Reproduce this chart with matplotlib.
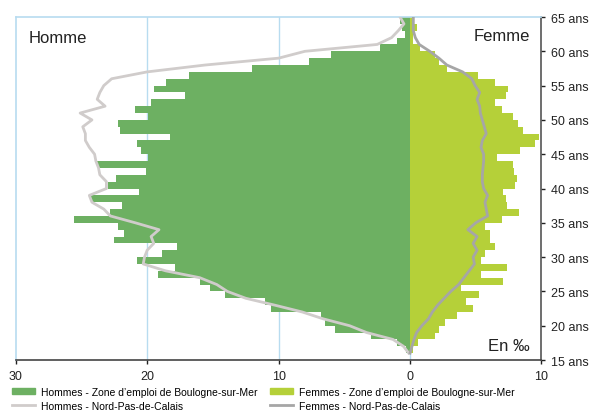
import numpy as np
import matplotlib.pyplot as plt
from matplotlib.patches import Patch
from matplotlib.lines import Line2D
from matplotlib.ticker import FixedLocator, FixedFormatter

plt.rcParams['font.family'] = ['Liberation Sans', 'DejaVu Sans']

# ages of the bars (each bar covers [age, age+1])
ages = list(range(16, 65))
hommes_zone = [0.3, 1.0, 3.0, 5.7, 6.5, 6.8, 10.6, 11.0, 14.1, 15.2,
               16.0, 19.2, 17.9, 20.8, 18.9, 17.7, 22.5, 21.8, 22.2, 25.6,
               22.8, 21.9, 24.3, 20.6, 23.0, 22.4, 20.1, 23.8, 19.9, 20.5,
               20.8, 18.3, 22.1, 22.2, 19.9, 20.9, 19.7, 17.1, 19.5, 18.6,
               16.8, 12.05, 7.7, 6.0, 2.3, 1.0, 0.4, 0.6, 0.75]
femmes_zone = [0.25, 0.63, 1.9, 2.2, 2.66, 3.55, 4.8, 4.26, 5.25, 3.9,
               7.05, 5.4, 7.4, 5.4, 5.7, 6.5, 6.1, 6.1, 5.7, 7.0,
               8.27, 7.4, 7.3, 7.05, 8.0, 8.1, 7.9, 7.8, 6.6, 8.4,
               9.5, 9.8, 8.57, 8.25, 7.8, 6.98, 6.47, 7.3, 7.43, 6.47,
               5.15, 2.8, 2.2, 1.9, 0.76, 0.25, 0.25, 0.5, 0.2]

# regional reference lines
ages_npdc = list(range(16, 66))
hommes_npdc = [0.1, 0.5, 1.3, 3.3, 4.6, 6.6, 8.2, 10.3, 12.5, 13.9,
               14.7, 16.0, 18.6, 20.3, 20.2, 20.0, 19.5, 19.7, 19.1, 20.9,
               22.8, 23.3, 24.2, 24.4, 23.1, 23.1, 23.6, 23.7, 23.9, 24.0,
               24.4, 24.7, 24.7, 24.9, 24.2, 25.1, 23.2, 23.8, 23.6, 23.3,
               22.7, 20.0, 15.6, 10.0, 8.0, 2.5, 1.4, 0.9, 0.46, 0.76]
femmes_npdc = [0.0, 0.15, 0.3, 0.5, 0.9, 1.4, 1.7, 2.1, 2.6, 3.1,
               3.7, 4.1, 4.5, 4.9, 4.8, 5.1, 4.8, 5.1, 4.4, 5.0,
               5.9, 5.8, 5.7, 5.9, 5.6, 5.5, 5.5, 5.55, 5.6, 5.6,
               5.4, 5.5, 5.8, 5.65, 5.5, 5.35, 5.3, 5.1, 5.3, 4.95,
               4.7, 4.0, 2.8, 2.2, 1.5, 0.7, 0.4, 0.25, 0.25, 0.25]

x_ticks = [-30, -20, -10, 0, 10]
x_labels = ['30', '20', '10', '0', '10']
y_ticks = list(range(15, 70, 5))
y_labels = ['%d ans' % a for a in y_ticks]

c_h = '#6db062'
c_f = '#b5d039'
c_hl = '#d0cccb'
c_fl = '#a6a6a6'
c_grid = '#b8dcf0'

fig = plt.figure(figsize=(5.91, 4.14), dpi=100)
ax = fig.add_axes([0.0266, 0.128, 0.8896, 0.8285])

for gx in [-20, -10, 0]:
    ax.axvline(gx, color=c_grid, lw=1.0, zorder=0)

ax.barh(ages, [-v for v in hommes_zone], height=1, align='edge', color=c_h, lw=0, zorder=2)
ax.barh(ages, femmes_zone, height=1, align='edge', color=c_f, lw=0, zorder=2)
ax.plot([-v for v in hommes_npdc], ages_npdc, color=c_hl, lw=2, zorder=3)
ax.plot(femmes_npdc, ages_npdc, color=c_fl, lw=2, zorder=3)

ax.set_xlim(-30, 10)
ax.set_ylim(15, 65)
ax.xaxis.set_major_locator(FixedLocator(x_ticks))
ax.xaxis.set_major_formatter(FixedFormatter(x_labels))
ax.yaxis.tick_right()
ax.set_yticks(y_ticks)
ax.set_yticklabels(y_labels)
ax.tick_params(axis='both', labelsize=9, colors='#222222', length=3, width=1)
ax.tick_params(axis='y', pad=4)
ax.tick_params(axis='x', pad=4)

ax.spines['left'].set_color(c_grid)
ax.spines['top'].set_color(c_grid)
ax.spines['right'].set_color('#555555')
ax.spines['bottom'].set_color('#444444')
for s in ax.spines.values():
    s.set_linewidth(1.2)

ax.text(0.025, 0.94, 'Homme', transform=ax.transAxes, fontsize=12, va='center',
        color='#222222')
ax.text(0.978, 0.945, 'Femme', transform=ax.transAxes, fontsize=12, va='center', ha='right',
        color='#222222')
ax.text(0.978, 0.042, 'En ‰', transform=ax.transAxes, fontsize=12, va='center', ha='right',
        color='#222222')

# two legend columns placed separately
leg_kw = dict(loc='upper left', frameon=False, fontsize=7.5, handlelength=2.2,
              handleheight=0.5, handletextpad=0.55, labelspacing=0.35,
              borderaxespad=0, borderpad=0)
leg1 = fig.legend([Patch(color=c_h), Line2D([], [], color=c_hl, lw=2)],
                  ['Hommes - Zone d\u2019emploi de Boulogne-sur-Mer', 'Hommes - Nord-Pas-de-Calais'],
                  bbox_to_anchor=(12 / 591, 1 - 388 / 414), **leg_kw)
leg2 = fig.legend([Patch(color=c_f), Line2D([], [], color=c_fl, lw=2)],
                  ['Femmes - Zone d\u2019emploi de Boulogne-sur-Mer', 'Femmes - Nord-Pas-de-Calais'],
                  bbox_to_anchor=(270 / 591, 1 - 388 / 414), **leg_kw)

fig.savefig('out.png', dpi=100)
